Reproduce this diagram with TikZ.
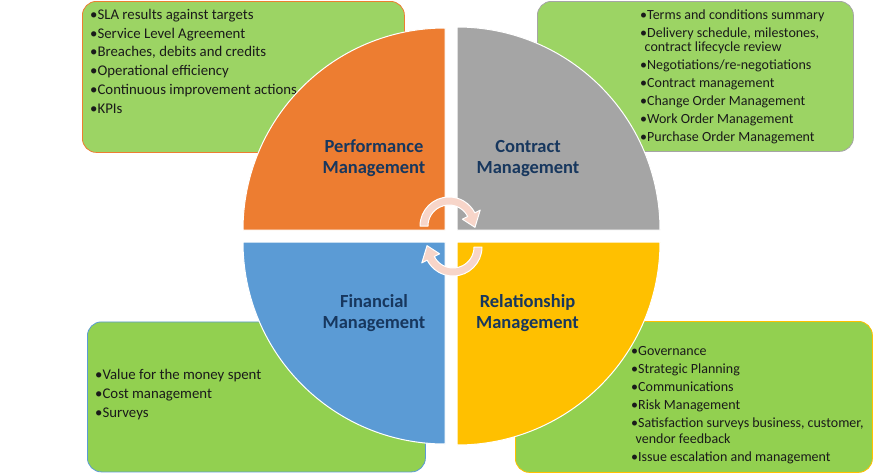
\documentclass[tikz,border=0pt]{standalone}
\usepackage{fontspec}
\setmainfont{Carlito}
\definecolor{qorange}{HTML}{ED7D31}
\definecolor{qgray}{HTML}{A5A5A5}
\definecolor{qblue}{HTML}{5B9BD5}
\definecolor{qyellow}{HTML}{FFC000}
\definecolor{gtop}{HTML}{9CD464}
\definecolor{gbot}{HTML}{92D050}
\definecolor{titlecol}{HTML}{17375E}
\definecolor{itemcol}{HTML}{1A1A1A}
\definecolor{cycpink}{HTML}{F7D5C9}
\newcommand{\ind}{\hspace*{4.5pt}}
\begin{document}
\begin{tikzpicture}[x=1pt,y=-1pt,
  box/.style={rounded corners=14pt, line width=0.8pt, anchor=north west, inner sep=0pt},
  quad/.style={draw=white, line width=1pt},
  title/.style={font=\fontsize{18.5}{21}\selectfont\bfseries, text=titlecol, align=center, inner sep=0pt},
  items/.style={anchor=base west, inner sep=0pt, text=itemcol},
  cyc/.style={fill=cycpink, draw=white, line width=1pt, line join=round}]
\useasboundingbox (0,0) rectangle (890,474);
\fill[white] (0,0) rectangle (890,474);

% boxes
\node[box, draw=qorange, fill=gtop, minimum width=322pt, minimum height=151pt] (pmbox) at (82,1) {};
\node[box, draw=qgray, fill=gtop, minimum width=316pt, minimum height=150pt] (cmbox) at (537,1) {};
\node[box, draw=qblue, fill=gbot, minimum width=338pt, minimum height=150pt] (fmbox) at (87,321.5) {};
\node[box, draw=qyellow, fill=gbot, minimum width=357pt, minimum height=151pt] (rmbox) at (515,321) {};

% box texts
\node[items] (pmtext) at (90,19.5) {\parbox[t]{320pt}{\fontsize{14.8}{18.7}\selectfont
•SLA results against targets\\
•Service Level Agreement\\
•Breaches, debits and credits\\
•Operational efficiency\\
•Continuous improvement actions\\
•KPIs}};
\node[items] (cmtext) at (640,19.5) {\parbox[t]{220pt}{\fontsize{14}{18}\selectfont
•Terms and conditions  summary\\
•Delivery schedule, milestones,\\[-3.6pt]
\ind contract lifecycle review\\
•Negotiations/re-negotiations\\
•Contract management\\
•Change Order Management\\
•Work Order Management\\
•Purchase Order Management}};
\node[items] (fmtext) at (95,379.5) {\parbox[t]{300pt}{\fontsize{14.8}{18.8}\selectfont
•Value for the money spent\\
•Cost management\\
•Surveys}};
\node[items] (rmtext) at (631,355.5) {\parbox[t]{260pt}{\fontsize{14}{18}\selectfont
•Governance\\
•Strategic Planning\\
•Communications\\
•Risk Management\\
•Satisfaction surveys business,  customer,\\[-2.5pt]
\ind vendor feedback\\
•Issue escalation and management}};

% quadrants
\path[quad, fill=qorange] (445,230) -- (243,230) arc[start angle=180, end angle=270, radius=202] -- cycle;
\path[quad, fill=qgray] (457,230) -- (457,27) arc[start angle=270, end angle=360, radius=203] -- cycle;
\path[quad, fill=qblue] (445,242) -- (445,444) arc[start angle=90, end angle=180, radius=202] -- cycle;
\path[quad, fill=qyellow] (457,242) -- (660,242) arc[start angle=0, end angle=90, radius=203] -- cycle;

% titles
\node[title] (pm) at (374,158.5) {Performance\\Management};
\node[title] (cm) at (528,158.5) {Contract\\Management};
\node[title] (fm) at (374,313.5) {Financial\\Management};
\node[title] (rm) at (527.5,313.5) {Relationship\\Management};

% cycle arrows
\begin{scope}[shift={(449,226)}]
\path[cyc] (180:29) arc[start angle=180, end angle=333, radius=29] -- (333:35) -- (3:26) -- (333:15) -- (333:21) arc[start angle=333, end angle=180, radius=21] -- cycle;
\end{scope}
\begin{scope}[shift={(453,247)}, rotate=180]
\path[cyc] (180:29) arc[start angle=180, end angle=333, radius=29] -- (333:35) -- (3:26) -- (333:15) -- (333:21) arc[start angle=333, end angle=180, radius=21] -- cycle;
\end{scope}
\end{tikzpicture}
\end{document}
